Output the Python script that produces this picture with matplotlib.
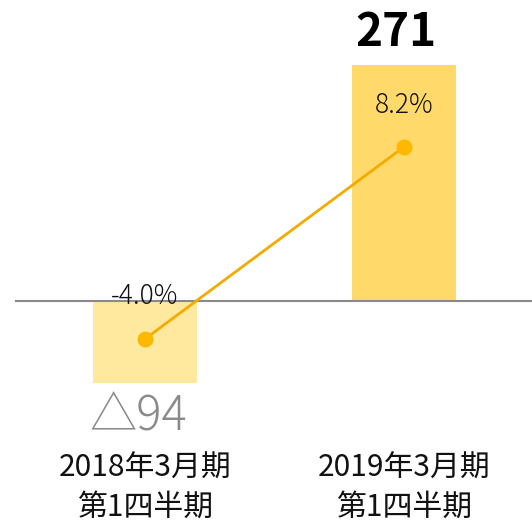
import matplotlib
matplotlib.use("Agg")
import matplotlib.pyplot as plt

plt.rcParams['font.family'] = ['Noto Sans CJK JP', 'DejaVu Sans']

categories = ["2018年3月期\n第1四半期", "2019年3月期\n第1四半期"]
profit = [-94, 271]
profit_labels = ["△94", "271"]
margin = [-4.0, 8.2]
margin_labels = ["-4.0%", "8.2%"]

bar_colors = ["#FFE99F", "#FFD96A"]

fig = plt.figure(figsize=(5.32, 5.28), dpi=100)
ax = fig.add_axes([0, 0, 1, 1])
ax.set_xlim(-0.56, 1.494)
ax.set_ylim(-260.3, 345.2)
ax.axis('off')

x = list(range(len(categories)))
ax.bar(x, profit, width=0.405, color=bar_colors, zorder=1)
ax.axhline(0, xmin=16/532, xmax=1, color="#8a8a8a", lw=1.5, zorder=2)

# value labels
ax.text(x[0] - 0.025, profit[0] - 11, profit_labels[0], ha='center', va='top',
        fontsize=34, color="#8a8a8a", fontweight='light')
ax.text(x[1] - 0.03, profit[1] + 10, profit_labels[1], ha='center', va='bottom',
        fontsize=33, color="black", fontweight='bold')

# category labels
for xi, c in zip(x, categories):
    ax.text(xi, -214, c, ha='center', va='center', fontsize=21.5,
            color="#111111", linespacing=1.35)

ax2 = fig.add_axes([0, 0, 1, 1], sharex=ax)
ax2.set_ylim(-16.01, 17.53)
ax2.axis('off')
ax2.plot(x, margin, color="#F5AA00", lw=2, zorder=3)
ax2.scatter(x, margin, s=110, color="#FFB800", zorder=4)

ax2.text(x[0], -1.3, margin_labels[0], ha='center', va='center',
         fontsize=19, color="#111111", fontweight='light', zorder=5)
ax2.text(x[1], 10.86, margin_labels[1], ha='center', va='center',
         fontsize=19, color="#111111", fontweight='light')

fig.savefig("out.png", dpi=100)
